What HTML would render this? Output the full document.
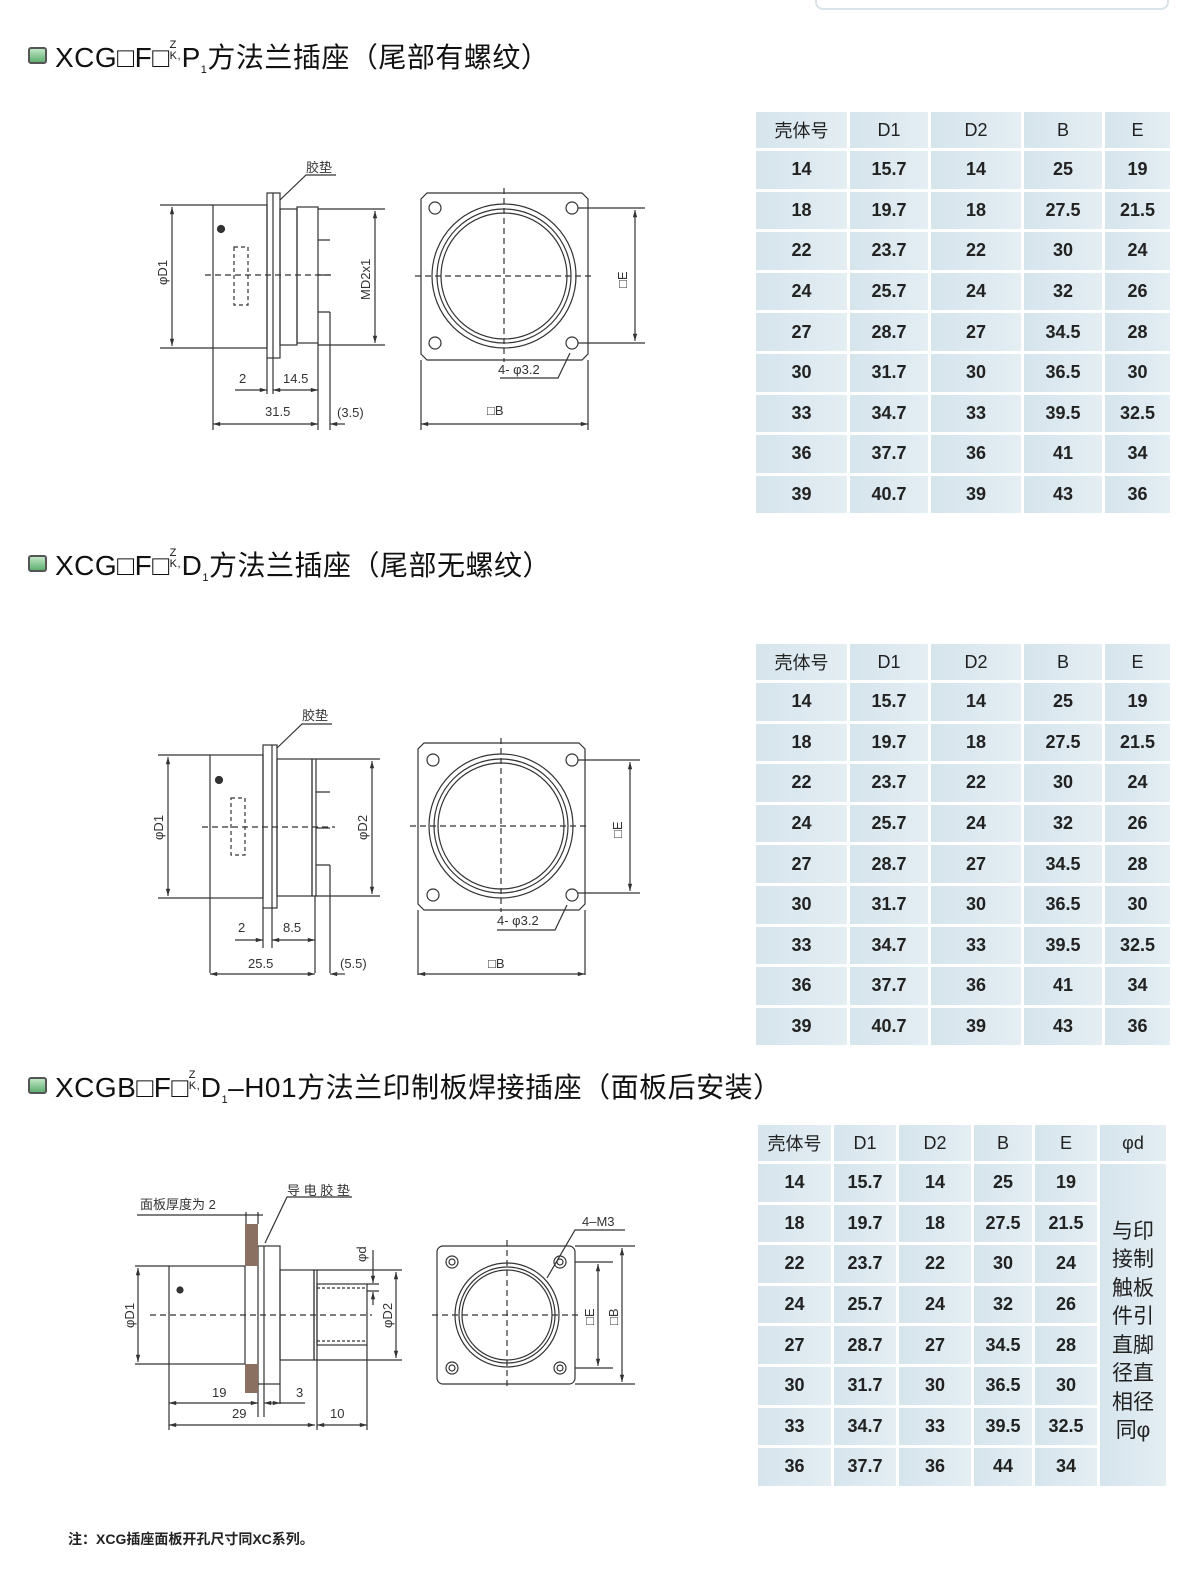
<!DOCTYPE html>
<html><head><meta charset="utf-8">
<style>
body{margin:0;width:1200px;height:1575px;background:#fff;position:relative;overflow:hidden;font-family:"Liberation Sans","Noto Sans CJK SC",sans-serif;}
.title{position:absolute;left:28px;font-size:28px;color:#111;white-space:nowrap;line-height:30px;letter-spacing:0.5px;}
.ic{display:inline-block;width:15px;height:13px;border:2px solid #555;border-radius:3px;background:linear-gradient(#bfe6c6,#5fb070);vertical-align:3px;margin-right:8px;}
.st{display:inline-block;font-size:11px;line-height:11px;vertical-align:8px;width:12px;}
.sub{font-size:11px;vertical-align:-6px;}
table{position:absolute;border-collapse:separate;border-spacing:3px;left:752px;}
td{background:linear-gradient(90deg,#d6e4ec,#e4eef3);text-align:center;font-size:18px;font-weight:bold;color:#222;padding:0;height:37.6px;}
tr.h td{font-weight:normal;font-size:18px;height:36px;}
.note{position:absolute;left:68px;top:1529px;font-size:14px;font-weight:bold;color:#222;}
svg{position:absolute;left:0;top:0;}
svg text{font-family:"Liberation Sans","Noto Sans CJK SC",sans-serif;fill:#333;font-size:13px;}
</style></head><body>
<div style="position:absolute;left:815px;top:-10px;width:350px;height:16px;border:2px solid #d8e4ea;border-radius:8px;"></div>

<div class="title" style="top:40px"><span class="ic"></span>XCG□F□<span class="st">Z<br>K,</span>P<span class="sub">1</span>方法兰插座（尾部有螺纹）</div>
<div class="title" style="top:548px"><span class="ic"></span>XCG□F□<span class="st">Z<br>K,</span>D<span class="sub">1</span>方法兰插座（尾部无螺纹）</div>
<div class="title" style="top:1070px"><span class="ic"></span>XCGB□F□<span class="st">Z<br>K,</span>D<span class="sub">1</span>–H01方法兰印制板焊接插座（面板后安装）</div>

<table style="top:109px;left:753px"><colgroup><col width="91"><col width="78"><col width="90"><col width="78"><col width="65"></colgroup>
<tr class="h"><td>壳体号</td><td>D1</td><td>D2</td><td>B</td><td>E</td></tr>
<tr><td>14</td><td>15.7</td><td>14</td><td>25</td><td>19</td></tr>
<tr><td>18</td><td>19.7</td><td>18</td><td>27.5</td><td>21.5</td></tr>
<tr><td>22</td><td>23.7</td><td>22</td><td>30</td><td>24</td></tr>
<tr><td>24</td><td>25.7</td><td>24</td><td>32</td><td>26</td></tr>
<tr><td>27</td><td>28.7</td><td>27</td><td>34.5</td><td>28</td></tr>
<tr><td>30</td><td>31.7</td><td>30</td><td>36.5</td><td>30</td></tr>
<tr><td>33</td><td>34.7</td><td>33</td><td>39.5</td><td>32.5</td></tr>
<tr><td>36</td><td>37.7</td><td>36</td><td>41</td><td>34</td></tr>
<tr><td>39</td><td>40.7</td><td>39</td><td>43</td><td>36</td></tr>
</table>

<table style="top:641px;left:753px"><colgroup><col width="91"><col width="78"><col width="90"><col width="78"><col width="65"></colgroup>
<tr class="h"><td>壳体号</td><td>D1</td><td>D2</td><td>B</td><td>E</td></tr>
<tr><td>14</td><td>15.7</td><td>14</td><td>25</td><td>19</td></tr>
<tr><td>18</td><td>19.7</td><td>18</td><td>27.5</td><td>21.5</td></tr>
<tr><td>22</td><td>23.7</td><td>22</td><td>30</td><td>24</td></tr>
<tr><td>24</td><td>25.7</td><td>24</td><td>32</td><td>26</td></tr>
<tr><td>27</td><td>28.7</td><td>27</td><td>34.5</td><td>28</td></tr>
<tr><td>30</td><td>31.7</td><td>30</td><td>36.5</td><td>30</td></tr>
<tr><td>33</td><td>34.7</td><td>33</td><td>39.5</td><td>32.5</td></tr>
<tr><td>36</td><td>37.7</td><td>36</td><td>41</td><td>34</td></tr>
<tr><td>39</td><td>40.7</td><td>39</td><td>43</td><td>36</td></tr>
</table>

<table style="top:1122px;left:755px"><colgroup><col width="73"><col width="62"><col width="72"><col width="58"><col width="62"><col width="66"></colgroup>
<tr class="h"><td>壳体号</td><td>D1</td><td>D2</td><td>B</td><td>E</td><td>φd</td></tr>
<tr><td>14</td><td>15.7</td><td>14</td><td>25</td><td>19</td><td rowspan="8" style="font-weight:normal;font-size:21px;line-height:28.5px;padding-top:14px;">与印<br>接制<br>触板<br>件引<br>直脚<br>径直<br>相径<br>同φ</td></tr>
<tr><td>18</td><td>19.7</td><td>18</td><td>27.5</td><td>21.5</td></tr>
<tr><td>22</td><td>23.7</td><td>22</td><td>30</td><td>24</td></tr>
<tr><td>24</td><td>25.7</td><td>24</td><td>32</td><td>26</td></tr>
<tr><td>27</td><td>28.7</td><td>27</td><td>34.5</td><td>28</td></tr>
<tr><td>30</td><td>31.7</td><td>30</td><td>36.5</td><td>30</td></tr>
<tr><td>33</td><td>34.7</td><td>33</td><td>39.5</td><td>32.5</td></tr>
<tr><td>36</td><td>37.7</td><td>36</td><td>44</td><td>34</td></tr>
</table>

<div class="note">注：XCG插座面板开孔尺寸同XC系列。</div>

<svg width="1200" height="1575" viewBox="0 0 1200 1575">
<defs><marker id="a" viewBox="0 0 10 10" refX="10" refY="5" markerWidth="8" markerHeight="6" orient="auto-start-reverse"><path d="M0,2L10,5L0,8z" fill="#333"/></marker></defs>
<g fill="none" stroke="#333" stroke-width="1.2">
<rect x="213" y="205" width="54" height="143"/>
<rect x="267" y="193" width="13" height="165"/><line x1="273" y1="193" x2="273" y2="358"/>
<rect x="280" y="209" width="17" height="136"/><rect x="297" y="207" width="21" height="136"/>
<path d="M318 240h12M318 275h12M318 312h12"/>
<line x1="160" y1="205" x2="213" y2="205"/><line x1="160" y1="348" x2="213" y2="348"/>
<line x1="172" y1="207" x2="172" y2="346" marker-start="url(#a)" marker-end="url(#a)"/>
<line x1="318" y1="209" x2="385" y2="209"/><line x1="318" y1="345" x2="385" y2="345"/>
<line x1="375" y1="211" x2="375" y2="343" marker-start="url(#a)" marker-end="url(#a)"/>
<rect x="234" y="247" width="14" height="58" stroke-dasharray="4 3"/>
<line x1="205" y1="275" x2="335" y2="275" stroke-dasharray="6 4"/>
<circle cx="221" cy="229" r="3.5" fill="#333"/>
<path d="M213 348v82M267 358v36M273 358v36M318 343v87M330 312v118"/>
<line x1="235" y1="390" x2="267" y2="390" marker-end="url(#a)"/><line x1="273" y1="390" x2="318" y2="390" marker-start="url(#a)" marker-end="url(#a)"/>
<line x1="213" y1="424" x2="318" y2="424" marker-start="url(#a)" marker-end="url(#a)"/><line x1="330" y1="424" x2="345" y2="424" marker-start="url(#a)"/>
<path d="M336 175h-30L280 200"/>
<path d="M427 193h155l6 6v155l-6 6h-155l-6-6v-155z"/>
<circle cx="504" cy="276" r="72"/><circle cx="504" cy="276" r="67"/><circle cx="504" cy="276" r="63"/>
<circle cx="435" cy="208" r="6"/><circle cx="572" cy="208" r="6"/><circle cx="435" cy="343" r="6"/><circle cx="572" cy="343" r="6"/>
<line x1="415" y1="276" x2="592" y2="276" stroke-dasharray="6 4"/><line x1="504" y1="188" x2="504" y2="362" stroke-dasharray="6 4"/>
<path d="M578 208h67M578 343h67"/><line x1="635" y1="210" x2="635" y2="341" marker-start="url(#a)" marker-end="url(#a)"/>
<path d="M421 360v70M588 360v70"/><line x1="421" y1="424" x2="588" y2="424" marker-start="url(#a)" marker-end="url(#a)"/>
<path d="M500 378h58l12-25"/>
<rect x="210" y="755" width="53" height="143"/>
<rect x="263" y="745" width="14" height="163"/><line x1="272" y1="745" x2="272" y2="908"/>
<rect x="277" y="759" width="35" height="137"/><rect x="312" y="759" width="4" height="137"/>
<path d="M316 792h14M316 828h14M316 865h14"/>
<line x1="158" y1="755" x2="210" y2="755"/><line x1="158" y1="898" x2="210" y2="898"/>
<line x1="168" y1="757" x2="168" y2="896" marker-start="url(#a)" marker-end="url(#a)"/>
<line x1="316" y1="759" x2="380" y2="759"/><line x1="316" y1="896" x2="380" y2="896"/>
<line x1="372" y1="761" x2="372" y2="894" marker-start="url(#a)" marker-end="url(#a)"/>
<rect x="231" y="798" width="14" height="57" stroke-dasharray="4 3"/>
<line x1="202" y1="827" x2="335" y2="827" stroke-dasharray="6 4"/>
<circle cx="219" cy="780" r="3.5" fill="#333"/>
<path d="M210 898v75M263 908v40M272 908v40M315 896v77M330 865v108"/>
<line x1="235" y1="940" x2="263" y2="940" marker-end="url(#a)"/><line x1="272" y1="940" x2="315" y2="940" marker-start="url(#a)" marker-end="url(#a)"/>
<line x1="210" y1="974" x2="315" y2="974" marker-start="url(#a)" marker-end="url(#a)"/><line x1="330" y1="974" x2="345" y2="974" marker-start="url(#a)"/>
<path d="M332 724h-30L277 748"/>
<path d="M424 743h155l6 6v155l-6 6h-155l-6-6v-155z"/>
<circle cx="501" cy="826" r="72"/><circle cx="501" cy="826" r="67"/><circle cx="501" cy="826" r="63"/>
<circle cx="433" cy="760" r="6"/><circle cx="572" cy="760" r="6"/><circle cx="433" cy="895" r="6"/><circle cx="572" cy="895" r="6"/>
<line x1="410" y1="826" x2="590" y2="826" stroke-dasharray="6 4"/><line x1="501" y1="738" x2="501" y2="912" stroke-dasharray="6 4"/>
<path d="M578 760h62M578 893h62"/><line x1="630" y1="762" x2="630" y2="891" marker-start="url(#a)" marker-end="url(#a)"/>
<path d="M418 910v65M585 910v65"/><line x1="418" y1="974" x2="585" y2="974" marker-start="url(#a)" marker-end="url(#a)"/>
<path d="M497 930h58l12-25"/>
<rect x="169" y="1266" width="76" height="98"/>
<rect x="258" y="1246" width="22" height="138"/><line x1="264" y1="1246" x2="264" y2="1384"/>
<rect x="280" y="1270" width="34" height="90"/><rect x="314" y="1270" width="3" height="90"/>
<rect x="317" y="1284" width="50" height="61"/>
<path d="M317 1288h50M317 1341h50" stroke-dasharray="3 2"/>
<line x1="135" y1="1266" x2="169" y2="1266"/><line x1="135" y1="1364" x2="169" y2="1364"/>
<line x1="138" y1="1268" x2="138" y2="1362" marker-start="url(#a)" marker-end="url(#a)"/>
<line x1="317" y1="1270" x2="402" y2="1270"/><line x1="317" y1="1360" x2="402" y2="1360"/>
<line x1="396" y1="1272" x2="396" y2="1358" marker-start="url(#a)" marker-end="url(#a)"/>
<path d="M367 1284h12M367 1291h12"/><line x1="373" y1="1250" x2="373" y2="1283" marker-end="url(#a)"/><line x1="373" y1="1305" x2="373" y2="1292" marker-end="url(#a)"/>
<line x1="150" y1="1315" x2="372" y2="1315" stroke-dasharray="6 4"/>
<circle cx="180" cy="1290" r="3" fill="#333"/>
<path d="M169 1364v66M258 1384v33M264 1384v33M280 1384v20M317 1360v70M367 1345v85"/>
<line x1="169" y1="1403" x2="258" y2="1403" marker-start="url(#a)" marker-end="url(#a)"/><line x1="264" y1="1403" x2="280" y2="1403" marker-start="url(#a)" marker-end="url(#a)"/><line x1="280" y1="1403" x2="305" y2="1403"/>
<line x1="169" y1="1425" x2="315" y2="1425" marker-start="url(#a)" marker-end="url(#a)"/><line x1="317" y1="1425" x2="367" y2="1425" marker-start="url(#a)" marker-end="url(#a)"/>
<path d="M137 1215h108M245 1215h18M246 1212v12M258 1212v12"/>
<path d="M352 1197h-65L265 1243"/>
<rect x="437" y="1246" width="138" height="138" rx="6"/>
<circle cx="507" cy="1315" r="52"/><circle cx="507" cy="1315" r="48"/><circle cx="507" cy="1315" r="45"/>
<circle cx="452" cy="1262" r="6"/><circle cx="560" cy="1262" r="6"/><circle cx="452" cy="1368" r="6"/><circle cx="560" cy="1368" r="6"/>
<circle cx="452" cy="1262" r="3"/><circle cx="560" cy="1262" r="3"/><circle cx="452" cy="1368" r="3"/><circle cx="560" cy="1368" r="3"/>
<line x1="432" y1="1315" x2="582" y2="1315" stroke-dasharray="6 4"/><line x1="507" y1="1240" x2="507" y2="1390" stroke-dasharray="6 4"/>
<path d="M575 1262h38M575 1368h38M575 1246h60M575 1384h60"/>
<line x1="598" y1="1264" x2="598" y2="1366" marker-start="url(#a)" marker-end="url(#a)"/>
<line x1="622" y1="1248" x2="622" y2="1382" marker-start="url(#a)" marker-end="url(#a)"/>
<path d="M625 1230h-50L547 1278"/>
</g>
<g fill="#333" stroke="none">
<rect x="245" y="1224" width="13" height="42" fill="#8a7060"/><rect x="245" y="1364" width="13" height="29" fill="#8a7060"/>
</g>
<g>
<text x="306" y="172">胶垫</text><text x="302" y="720">胶垫</text>
<text transform="translate(167,285) rotate(-90)">φD1</text>
<text transform="translate(370,300) rotate(-90)">MD2x1</text>
<text x="239" y="383">2</text><text x="283" y="383">14.5</text><text x="265" y="416">31.5</text><text x="337" y="417">(3.5)</text>
<text x="487" y="415">□B</text><text x="498" y="374">4- φ3.2</text>
<text transform="translate(627,288) rotate(-90)">□E</text>
<text transform="translate(163,840) rotate(-90)">φD1</text>
<text transform="translate(367,840) rotate(-90)">φD2</text>
<text x="238" y="932">2</text><text x="283" y="932">8.5</text><text x="248" y="968">25.5</text><text x="340" y="968">(5.5)</text>
<text x="488" y="968">□B</text><text x="497" y="925">4- φ3.2</text>
<text transform="translate(622,838) rotate(-90)">□E</text>
<text x="140" y="1209" font-size="12">面板厚度为 2</text><text x="287" y="1195" font-size="12">导 电 胶 垫</text>
<text transform="translate(134,1328) rotate(-90)">φD1</text>
<text transform="translate(392,1328) rotate(-90)">φD2</text>
<text transform="translate(366,1262) rotate(-90)" font-size="11">φd</text>
<text x="212" y="1397">19</text><text x="296" y="1397">3</text><text x="232" y="1418">29</text><text x="330" y="1418">10</text>
<text x="582" y="1226">4–M3</text>
<text transform="translate(594,1325) rotate(-90)">□E</text>
<text transform="translate(618,1325) rotate(-90)">□B</text>
</g>
</svg>
</body></html>
